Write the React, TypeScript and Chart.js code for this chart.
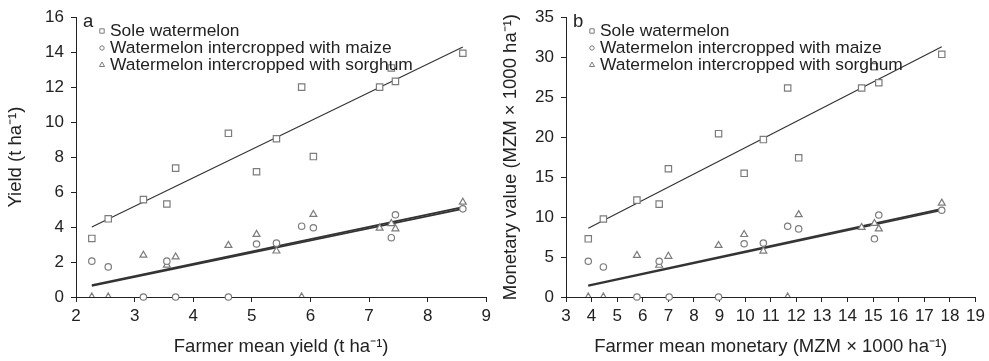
import React, { useEffect, useRef } from "react";
import { Chart, registerables } from "chart.js";
Chart.register(...registerables);

// ---------- Panel a: yield ----------
const aSoleX = [2.27, 2.55, 3.15, 3.55, 3.7, 4.6, 5.08, 5.42, 5.85, 6.05, 7.18, 7.38, 7.45, 8.6];
const aSoleY = [3.35, 4.47, 5.57, 5.32, 7.37, 9.36, 7.16, 9.05, 12.0, 8.03, 12.0, 13.1, 12.33, 13.94];
const aMaizeX = [2.27, 2.55, 3.15, 3.55, 3.7, 4.6, 5.08, 5.42, 5.85, 6.05, 7.38, 7.45, 8.6];
const aMaizeY = [2.05, 1.72, 0, 2.05, 0, 0, 3.03, 3.08, 4.05, 3.96, 3.39, 4.7, 5.04];
const aSorgX = [2.27, 2.55, 3.15, 3.55, 3.7, 4.6, 5.08, 5.42, 5.85, 6.05, 7.18, 7.38, 7.45, 8.6];
const aSorgY = [0, 0, 2.39, 1.82, 2.29, 2.95, 3.58, 2.63, 0, 4.72, 3.94, 4.2, 3.9, 5.42];
const aFitX = [2.27, 8.6];
const aSoleFitY = [4.0, 14.3];
const aMaizeFitY = [0.63, 5.04];
const aSorgFitY = [0.68, 5.14];

// ---------- Panel b: monetary value ----------
const bSoleX = [3.87, 4.46, 5.77, 6.64, 7.0, 8.96, 9.96, 10.71, 11.66, 12.09, 14.55, 15.05, 15.22, 17.68];
const bSoleY = [7.28, 9.76, 12.12, 11.62, 16.04, 20.43, 15.47, 19.69, 26.14, 17.41, 26.14, 28.8, 26.8, 30.36];
const bMaizeX = [3.87, 4.46, 5.77, 6.64, 7.03, 8.96, 9.96, 10.71, 11.66, 12.09, 15.05, 15.22, 17.68];
const bMaizeY = [4.47, 3.76, 0, 4.47, 0, 0, 6.66, 6.74, 8.85, 8.52, 7.28, 10.26, 10.85];
const bSorgX = [3.87, 4.46, 5.77, 6.64, 7.0, 8.96, 9.96, 10.71, 11.66, 12.09, 14.55, 15.05, 15.22, 17.68];
const bSorgY = [0, 0, 5.21, 3.97, 5.09, 6.45, 7.82, 5.75, 0, 10.3, 8.7, 9.2, 8.52, 11.74];
const bFitX = [3.87, 17.68];
const bSoleFitY = [8.6, 31.3];
const bMaizeFitY = [1.38, 10.85];
const bSorgFitY = [1.46, 11.02];

const legendLabels = [
  "Sole watermelon",
  "Watermelon intercropped with maize",
  "Watermelon intercropped with sorghum",
];

const FONT = "'Liberation Sans', Arial, Helvetica, sans-serif";
const MARK = "#7c7c7c";
const INK = "#222";
const LINE = "#333";

const pts = (xs: number[], ys: number[]) => xs.map((x, i) => ({ x, y: ys[i] }));

function drawMarker(ctx: CanvasRenderingContext2D, kind: string, x: number, y: number, s: number) {
  ctx.beginPath();
  if (kind === "rect") {
    ctx.rect(x - s, y - s, 2 * s, 2 * s);
  } else if (kind === "circle") {
    ctx.arc(x, y, s, 0, Math.PI * 2);
  } else {
    const r = s * 1.35;
    ctx.moveTo(x, y - r);
    ctx.lineTo(x + r * 0.866, y + r * 0.5);
    ctx.lineTo(x - r * 0.866, y + r * 0.5);
    ctx.closePath();
  }
  ctx.fillStyle = "#fff";
  ctx.fill();
  ctx.stroke();
}

function makeLegendPlugin(letter: string) {
  return {
    id: "panelLegend",
    afterDatasetsDraw(chart: any) {
      const ctx = chart.ctx as CanvasRenderingContext2D;
      const left = chart.chartArea.left;
      ctx.save();
      ctx.fillStyle = INK;
      ctx.textBaseline = "alphabetic";
      ctx.textAlign = "left";
      ctx.font = `18.5px ${FONT}`;
      ctx.fillText(letter, left + 7, 27);
      ctx.font = `17.4px ${FONT}`;
      const kinds = ["rect", "circle", "triangle"];
      legendLabels.forEach((lab, i) => {
        const base = 36 + i * 17;
        ctx.strokeStyle = MARK;
        ctx.lineWidth = 1;
        drawMarker(ctx, kinds[i], left + 26, base - 5, 2.2);
        ctx.fillStyle = INK;
        ctx.fillText(lab, left + 34, base);
      });
      ctx.restore();
    },
  };
}

type PanelProps = {
  width: number;
  letter: string;
  soleX: number[]; soleY: number[];
  maizeX: number[]; maizeY: number[];
  sorgX: number[]; sorgY: number[];
  fitX: number[]; soleFitY: number[]; maizeFitY: number[]; sorgFitY: number[];
  xMin: number; xMax: number; xStep: number;
  yMax: number; yStep: number;
  xTitle: string; yTitle: string;
  yAxisWidth: number; padRight: number;
};

function Panel(p: PanelProps) {
  const ref = useRef<HTMLCanvasElement | null>(null);
  useEffect(() => {
    if (!ref.current) return;
    const pointBase = {
      type: "scatter" as const,
      borderColor: MARK,
      backgroundColor: "#fff",
      borderWidth: 1.2,
      showLine: false,
    };
    const lineBase = {
      type: "scatter" as const,
      showLine: true,
      pointRadius: 0,
      borderColor: LINE,
      borderWidth: 1.6,
      fill: false,
    };
    const chart = new Chart(ref.current, {
      type: "scatter",
      data: {
        datasets: [
          { ...lineBase, label: "fit sole", data: pts(p.fitX, p.soleFitY), borderWidth: 1.2, order: 5 },
          { ...lineBase, label: "fit maize", data: pts(p.fitX, p.maizeFitY), order: 5 },
          { ...lineBase, label: "fit sorghum", data: pts(p.fitX, p.sorgFitY), order: 5 },
          { ...pointBase, label: legendLabels[0], data: pts(p.soleX, p.soleY), pointStyle: "rect", pointRadius: 4.5, order: 1 },
          { ...pointBase, label: legendLabels[1], data: pts(p.maizeX, p.maizeY), pointStyle: "circle", pointRadius: 3.2, clip: false as any, order: 2 },
          { ...pointBase, label: legendLabels[2], data: pts(p.sorgX, p.sorgY), pointStyle: "triangle", pointRadius: 4, clip: { left: 10, top: 10, right: 10, bottom: 0 } as any, order: 3 },
        ],
      },
      options: {
        animation: false,
        responsive: false,
        layout: { padding: { top: 15, right: p.padRight, bottom: 0, left: 0 } },
        plugins: { legend: { display: false }, tooltip: { enabled: false } },
        scales: {
          x: {
            type: "linear",
            min: p.xMin,
            max: p.xMax,
            afterFit: (s: any) => { s.height = 64; },
            ticks: { stepSize: p.xStep, color: INK, font: { family: FONT, size: 17 }, padding: 4, maxRotation: 0, autoSkip: false },
            grid: { display: true, drawOnChartArea: false, drawTicks: true, tickLength: 5, color: "#222" },
            border: { display: true, color: "#222", width: 1 },
            title: { display: true, text: p.xTitle, color: INK, font: { family: FONT, size: 18.5 }, padding: { top: 0, bottom: 3 } },
          },
          y: {
            type: "linear",
            min: 0,
            max: p.yMax,
            afterFit: (s: any) => { s.width = p.yAxisWidth; },
            ticks: { stepSize: p.yStep, color: INK, font: { family: FONT, size: 17 }, padding: 7 },
            grid: { display: true, drawOnChartArea: false, drawTicks: true, tickLength: 5, color: "#222" },
            border: { display: true, color: "#222", width: 1 },
            title: { display: true, text: p.yTitle, color: INK, font: { family: FONT, size: 18.5 }, padding: { top: 5, bottom: 0 } },
          },
        },
      },
      plugins: [makeLegendPlugin(p.letter)],
    } as any);
    return () => chart.destroy();
  }, []);
  return <canvas ref={ref} width={p.width} height={361} style={{ display: "block", width: p.width, height: 361 }} />;
}

export default function App() {
  return (
    <div style={{ position: "fixed", left: 0, top: 0, width: 989, height: 361, display: "flex", background: "#fff" }}>
      <Panel
        width={495}
        letter="a"
        soleX={aSoleX} soleY={aSoleY}
        maizeX={aMaizeX} maizeY={aMaizeY}
        sorgX={aSorgX} sorgY={aSorgY}
        fitX={aFitX} soleFitY={aSoleFitY} maizeFitY={aMaizeFitY} sorgFitY={aSorgFitY}
        xMin={2} xMax={9} xStep={1}
        yMax={16} yStep={2}
        xTitle="Farmer mean yield (t ha⁻¹)"
        yTitle="Yield (t ha⁻¹)"
        yAxisWidth={76}
        padRight={4}
      />
      <Panel
        width={494}
        letter="b"
        soleX={bSoleX} soleY={bSoleY}
        maizeX={bMaizeX} maizeY={bMaizeY}
        sorgX={bSorgX} sorgY={bSorgY}
        fitX={bFitX} soleFitY={bSoleFitY} maizeFitY={bMaizeFitY} sorgFitY={bSorgFitY}
        xMin={3} xMax={19} xStep={1}
        yMax={35} yStep={5}
        xTitle="Farmer mean monetary (MZM × 1000 ha⁻¹)"
        yTitle="Monetary value (MZM × 1000 ha⁻¹)"
        yAxisWidth={71}
        padRight={13}
      />
    </div>
  );
}
